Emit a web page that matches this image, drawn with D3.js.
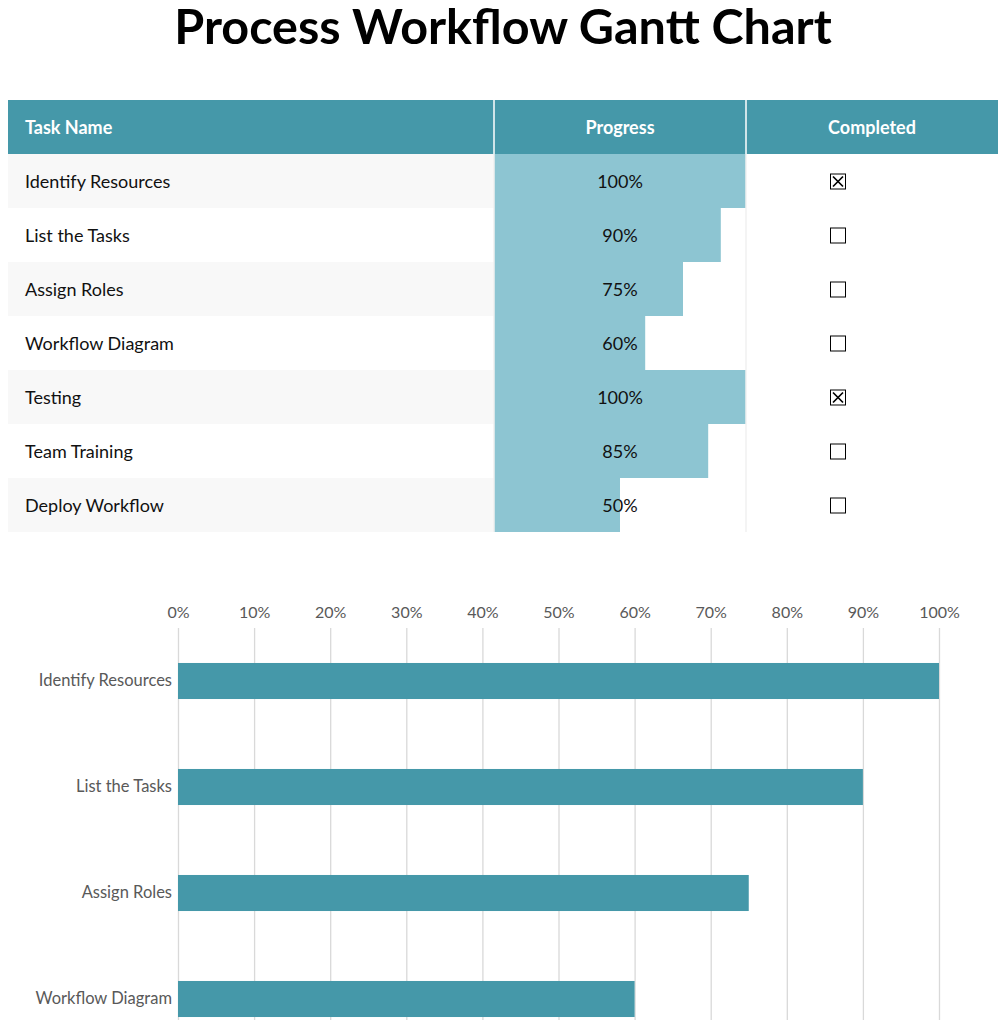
<!DOCTYPE html>
<html>
<head>
<meta charset="utf-8">
<script src="https://cdn.jsdelivr.net/npm/d3@7"></script>
<style>
  html, body { margin: 0; padding: 0; background: #fff; overflow: hidden; }
  svg { display: block; }
</style>
</head>
<body>
<svg id="chart" width="1006" height="1020"></svg>
<script>
const tasks = ["Identify Resources", "List the Tasks", "Assign Roles", "Workflow Diagram", "Testing", "Team Training", "Deploy Workflow"];
const progress = [1.00, 0.90, 0.75, 0.60, 1.00, 0.85, 0.50];
const completed = [true, false, false, false, true, false, false];
const headers = ["Task Name", "Progress", "Completed"];
const tickValues = [0, 0.1, 0.2, 0.3, 0.4, 0.5, 0.6, 0.7, 0.8, 0.9, 1.0];

const teal = "#4598a9";
const lightTeal = "#8dc5d2";
const W = 1006, H = 1020;
const svg = d3.select("#chart");

// Title
svg.append("text")
  .attr("x", 503).attr("y", 44)
  .attr("text-anchor", "middle")
  .style("font-family", "Lato, sans-serif")
  .style("font-weight", "bold")
  .style("font-size", "48.5px")
  .style("fill", "#000")
  .text("Process Workflow Gantt Chart");

// ---- Table ----
const tableTop = 100, headerH = 54, rowH = 54;
const colX = [8, 494, 746, 998];
const rowY = d3.scaleBand().domain(d3.range(tasks.length))
  .range([tableTop + headerH, tableTop + headerH + rowH * tasks.length]).padding(0);
const progX = d3.scaleLinear().domain([0, 1]).range([colX[1], colX[2]]);

const table = svg.append("g");
table.append("rect").attr("x", colX[0]).attr("y", tableTop)
  .attr("width", colX[3] - colX[0]).attr("height", headerH).attr("fill", teal);
[1, 2].forEach(i => table.append("line")
  .attr("x1", colX[i]).attr("x2", colX[i]).attr("y1", tableTop).attr("y2", tableTop + headerH)
  .attr("stroke", "#ffffff").attr("stroke-width", 1.5));
headers.forEach((h, i) => {
  table.append("text")
    .attr("x", i === 0 ? 25 : (colX[i] + colX[i + 1]) / 2)
    .attr("y", tableTop + headerH / 2 + 7)
    .attr("text-anchor", i === 0 ? "start" : "middle")
    .style("font-family", "Lato, sans-serif")
    .style("font-weight", "bold")
    .style("font-size", "18px")
    .style("fill", "#ffffff")
    .text(h);
});

const rows = table.selectAll("g.row").data(tasks).join("g").attr("class", "row");
rows.append("rect")
  .attr("x", colX[0]).attr("y", (d, i) => rowY(i))
  .attr("width", colX[1] - colX[0]).attr("height", rowY.bandwidth())
  .attr("fill", (d, i) => i % 2 === 0 ? "#f8f8f8" : "#ffffff");
rows.append("rect")
  .attr("x", progX(0)).attr("y", (d, i) => rowY(i))
  .attr("width", (d, i) => progX(progress[i]) - progX(0)).attr("height", rowY.bandwidth())
  .attr("fill", lightTeal);
rows.append("text")
  .attr("x", 25).attr("y", (d, i) => rowY(i) + rowY.bandwidth() / 2 + 7)
  .style("font-family", "Lato, sans-serif").style("font-size", "18px").style("fill", "#111")
  .text(d => d);
rows.append("text")
  .attr("x", (colX[1] + colX[2]) / 2).attr("y", (d, i) => rowY(i) + rowY.bandwidth() / 2 + 7)
  .attr("text-anchor", "middle")
  .style("font-family", "Lato, sans-serif").style("font-size", "18px").style("fill", "#111")
  .text((d, i) => Math.round(progress[i] * 100) + "%");
[1, 2].forEach(i => table.append("line")
  .attr("x1", colX[i]).attr("x2", colX[i])
  .attr("y1", tableTop + headerH).attr("y2", tableTop + headerH + rowH * tasks.length)
  .attr("stroke", "#f0f0f0").attr("stroke-width", 1.5));
const cb = rows.append("g")
  .attr("transform", (d, i) => `translate(830,${rowY(i) + rowY.bandwidth() / 2 - 7.5})`);
cb.append("rect").attr("x", 0.5).attr("y", 0.5).attr("width", 15).attr("height", 15)
  .attr("fill", "#fff").attr("stroke", "#000").attr("stroke-width", 1);
cb.filter((d, i) => completed[i]).append("path")
  .attr("d", "M3,3L13,13M13,3L3,13").attr("stroke", "#000").attr("stroke-width", 1.7);

// ---- Bar chart ----
const chartLeft = 178, chartRight = 939, chartTop = 628;
const step = 106;
const x = d3.scaleLinear().domain([0, 1]).range([chartLeft, chartRight]);
const y = d3.scaleBand().domain(tasks)
  .range([chartTop, chartTop + step * tasks.length]).paddingInner(0.66).paddingOuter(0.33);

const chart = svg.append("g");
const xAxis = d3.axisTop(x).tickValues(tickValues).tickFormat(d3.format(".0%"))
  .tickSize(-(H - chartTop)).tickPadding(10);
const gx = chart.append("g").attr("transform", `translate(0,${chartTop})`).call(xAxis);
gx.select(".domain").remove();
gx.selectAll(".tick line").attr("stroke", "#d9d9d9").attr("stroke-width", 1.3);
gx.selectAll(".tick text")
  .style("font-family", "Lato, sans-serif").style("font-size", "16px").style("fill", "#595959");

chart.selectAll("rect.bar").data(tasks).join("rect").attr("class", "bar")
  .attr("x", x(0)).attr("y", d => y(d))
  .attr("width", (d, i) => x(progress[i]) - x(0)).attr("height", y.bandwidth())
  .attr("fill", teal);

const yAxis = d3.axisLeft(y).tickSize(0).tickPadding(6);
const gy = chart.append("g").attr("transform", `translate(${chartLeft},0)`).call(yAxis);
gy.select(".domain").remove();
// labels below the visible page are not shown
gy.selectAll(".tick").filter(d => y(d) + y.bandwidth() / 2 > H - 10).remove();
gy.selectAll(".tick text")
  .style("font-family", "Lato, sans-serif").style("font-size", "16.5px").style("fill", "#595959");
</script>
</body>
</html>
